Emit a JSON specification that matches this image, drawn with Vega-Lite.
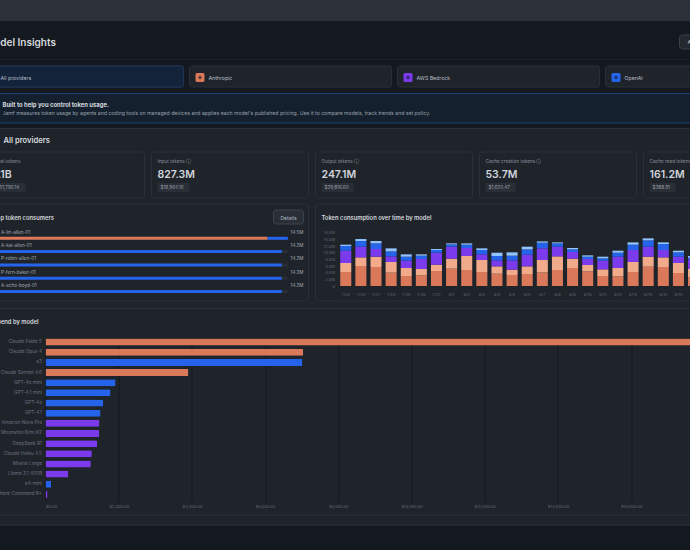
{
"$schema":"https://vega.github.io/schema/vega-lite/v6.json",
"description":"Model Insights dashboard: provider tabs, token KPIs, top consumers, consumption over time and spend by model.",
"background":"#1f242b",
"padding":{"left":-19.5,"top":0,"right":-160,"bottom":0},
"config":{"view":{"stroke":null},"text":{"font":"Inter"},"axis":{"labelFont":"Inter"}},
"data":{"values":[{}]},
"datasets":{
"providers":[{"provider":"All providers"},{"provider":"Anthropic"},{"provider":"AWS Bedrock"},{"provider":"OpenAI"}],
"kpis":[
{"label":"Total tokens","amount":"1.1B","cost":"$51,790.14"},
{"label":"Input tokens ⓘ","amount":"827.3M","cost":"$19,964.16"},
{"label":"Output tokens ⓘ","amount":"247.1M","cost":"$29,816.60"},
{"label":"Cache creation tokens ⓘ","amount":"53.7M","cost":"$1,620.47"},
{"label":"Cache read tokens ⓘ","amount":"161.2M","cost":"$388.91"}],
"consumers":[
{"user":"A-lin-allen-01","provider":"Anthropic","tokens":13.5},
{"user":"A-lin-allen-01","provider":"OpenAI","tokens":1.0},
{"user":"A-kai-allen-01","provider":"OpenAI","tokens":14.2},
{"user":"P-robin-allen-01","provider":"OpenAI","tokens":14.2},
{"user":"P-fern-baker-01","provider":"OpenAI","tokens":14.2},
{"user":"A-echo-boyd-01","provider":"OpenAI","tokens":14.2}],
"consumer_totals":[
{"user":"A-lin-allen-01","total":"14.5M","capacity":14.5,"right":15.27},
{"user":"A-kai-allen-01","total":"14.2M","capacity":14.5,"right":15.27},
{"user":"P-robin-allen-01","total":"14.2M","capacity":14.5,"right":15.27},
{"user":"P-fern-baker-01","total":"14.2M","capacity":14.5,"right":15.27},
{"user":"A-echo-boyd-01","total":"14.2M","capacity":14.5,"right":15.27}],
"spend":[
{"model":"Claude Fable 5","provider":"Anthropic","usd":19360},
{"model":"Claude Opus 4","provider":"Anthropic","usd":7040},
{"model":"o3","provider":"OpenAI","usd":7020},
{"model":"Claude Sonnet 4.6","provider":"Anthropic","usd":3907},
{"model":"GPT-4o mini","provider":"OpenAI","usd":1913},
{"model":"GPT-4.1 mini","provider":"OpenAI","usd":1776},
{"model":"GPT-4o","provider":"OpenAI","usd":1576},
{"model":"GPT-4.1","provider":"OpenAI","usd":1503},
{"model":"Amazon Nova Pro","provider":"AWS Bedrock","usd":1475},
{"model":"Moonshot Kimi K2","provider":"AWS Bedrock","usd":1467},
{"model":"DeepSeek R1","provider":"AWS Bedrock","usd":1412},
{"model":"Claude Haiku 4.5","provider":"AWS Bedrock","usd":1265},
{"model":"Mistral Large","provider":"AWS Bedrock","usd":1238},
{"model":"Llama 3.1 405B","provider":"AWS Bedrock","usd":628},
{"model":"o4-mini","provider":"OpenAI","usd":155},
{"model":"Cohere Command R+","provider":"AWS Bedrock","usd":55}],
"daily":[
{"day":"7/25","model":"Claude Fable 5","tokens":4.2},{"day":"7/25","model":"Claude Opus 4","tokens":2.7},{"day":"7/25","model":"DeepSeek R1","tokens":3.7},{"day":"7/25","model":"GPT-4o mini","tokens":1.4},{"day":"7/25","model":"o3","tokens":0.4},
{"day":"7/26","model":"Claude Fable 5","tokens":6.0},{"day":"7/26","model":"Claude Opus 4","tokens":2.6},{"day":"7/26","model":"DeepSeek R1","tokens":3.2},{"day":"7/26","model":"GPT-4o mini","tokens":1.7},{"day":"7/26","model":"o3","tokens":0.6},
{"day":"7/27","model":"Claude Fable 5","tokens":5.7},{"day":"7/27","model":"Claude Opus 4","tokens":3.1},{"day":"7/27","model":"DeepSeek R1","tokens":2.3},{"day":"7/27","model":"GPT-4o mini","tokens":1.7},{"day":"7/27","model":"o3","tokens":0.7},
{"day":"7/28","model":"Claude Fable 5","tokens":4.0},{"day":"7/28","model":"Claude Opus 4","tokens":3.2},{"day":"7/28","model":"DeepSeek R1","tokens":1.7},{"day":"7/28","model":"GPT-4o mini","tokens":1.5},{"day":"7/28","model":"o3","tokens":0.9},
{"day":"7/29","model":"Claude Fable 5","tokens":3.0},{"day":"7/29","model":"Claude Opus 4","tokens":2.4},{"day":"7/29","model":"DeepSeek R1","tokens":2.2},{"day":"7/29","model":"GPT-4o mini","tokens":1.2},{"day":"7/29","model":"o3","tokens":0.7},
{"day":"7/30","model":"Claude Fable 5","tokens":3.2},{"day":"7/30","model":"Claude Opus 4","tokens":1.9},{"day":"7/30","model":"DeepSeek R1","tokens":3.0},{"day":"7/30","model":"GPT-4o mini","tokens":1.0},{"day":"7/30","model":"o3","tokens":0.4},
{"day":"7/31","model":"Claude Fable 5","tokens":4.5},{"day":"7/31","model":"Claude Opus 4","tokens":1.9},{"day":"7/31","model":"DeepSeek R1","tokens":3.6},{"day":"7/31","model":"GPT-4o mini","tokens":0.8},{"day":"7/31","model":"o3","tokens":0.3},
{"day":"8/1","model":"Claude Fable 5","tokens":5.2},{"day":"8/1","model":"Claude Opus 4","tokens":3.0},{"day":"8/1","model":"DeepSeek R1","tokens":3.6},{"day":"8/1","model":"GPT-4o mini","tokens":0.7},{"day":"8/1","model":"o3","tokens":0.3},
{"day":"8/2","model":"Claude Fable 5","tokens":4.8},{"day":"8/2","model":"Claude Opus 4","tokens":4.2},{"day":"8/2","model":"DeepSeek R1","tokens":2.4},{"day":"8/2","model":"GPT-4o mini","tokens":1.0},{"day":"8/2","model":"o3","tokens":0.4},
{"day":"8/3","model":"Claude Fable 5","tokens":4.2},{"day":"8/3","model":"Claude Opus 4","tokens":3.6},{"day":"8/3","model":"DeepSeek R1","tokens":1.7},{"day":"8/3","model":"GPT-4o mini","tokens":1.3},{"day":"8/3","model":"o3","tokens":0.5},
{"day":"8/4","model":"Claude Fable 5","tokens":3.7},{"day":"8/4","model":"Claude Opus 4","tokens":2.2},{"day":"8/4","model":"DeepSeek R1","tokens":1.8},{"day":"8/4","model":"GPT-4o mini","tokens":1.3},{"day":"8/4","model":"o3","tokens":1.0},
{"day":"8/5","model":"Claude Fable 5","tokens":3.3},{"day":"8/5","model":"Claude Opus 4","tokens":1.6},{"day":"8/5","model":"DeepSeek R1","tokens":2.8},{"day":"8/5","model":"GPT-4o mini","tokens":1.4},{"day":"8/5","model":"o3","tokens":1.0},
{"day":"8/6","model":"Claude Fable 5","tokens":3.6},{"day":"8/6","model":"Claude Opus 4","tokens":2.3},{"day":"8/6","model":"DeepSeek R1","tokens":3.5},{"day":"8/6","model":"GPT-4o mini","tokens":1.6},{"day":"8/6","model":"o3","tokens":0.8},
{"day":"8/7","model":"Claude Fable 5","tokens":4.1},{"day":"8/7","model":"Claude Opus 4","tokens":3.7},{"day":"8/7","model":"DeepSeek R1","tokens":3.5},{"day":"8/7","model":"GPT-4o mini","tokens":1.7},{"day":"8/7","model":"o3","tokens":0.4},
{"day":"8/8","model":"Claude Fable 5","tokens":4.8},{"day":"8/8","model":"Claude Opus 4","tokens":4.1},{"day":"8/8","model":"DeepSeek R1","tokens":2.9},{"day":"8/8","model":"GPT-4o mini","tokens":1.0},{"day":"8/8","model":"o3","tokens":0.3},
{"day":"8/9","model":"Claude Fable 5","tokens":5.4},{"day":"8/9","model":"Claude Opus 4","tokens":2.8},{"day":"8/9","model":"DeepSeek R1","tokens":2.0},{"day":"8/9","model":"GPT-4o mini","tokens":0.8},{"day":"8/9","model":"o3","tokens":0.4},
{"day":"8/10","model":"Claude Fable 5","tokens":4.4},{"day":"8/10","model":"Claude Opus 4","tokens":1.9},{"day":"8/10","model":"DeepSeek R1","tokens":1.8},{"day":"8/10","model":"GPT-4o mini","tokens":0.7},{"day":"8/10","model":"o3","tokens":0.4},
{"day":"8/11","model":"Claude Fable 5","tokens":3.0},{"day":"8/11","model":"Claude Opus 4","tokens":2.0},{"day":"8/11","model":"DeepSeek R1","tokens":2.6},{"day":"8/11","model":"GPT-4o mini","tokens":0.7},{"day":"8/11","model":"o3","tokens":0.5},
{"day":"8/12","model":"Claude Fable 5","tokens":2.9},{"day":"8/12","model":"Claude Opus 4","tokens":2.5},{"day":"8/12","model":"DeepSeek R1","tokens":3.4},{"day":"8/12","model":"GPT-4o mini","tokens":1.2},{"day":"8/12","model":"o3","tokens":0.6},
{"day":"8/13","model":"Claude Fable 5","tokens":4.2},{"day":"8/13","model":"Claude Opus 4","tokens":3.0},{"day":"8/13","model":"DeepSeek R1","tokens":3.6},{"day":"8/13","model":"GPT-4o mini","tokens":1.6},{"day":"8/13","model":"o3","tokens":0.7},
{"day":"8/14","model":"Claude Fable 5","tokens":5.8},{"day":"8/14","model":"Claude Opus 4","tokens":3.0},{"day":"8/14","model":"DeepSeek R1","tokens":3.0},{"day":"8/14","model":"GPT-4o mini","tokens":1.9},{"day":"8/14","model":"o3","tokens":0.6},
{"day":"8/15","model":"Claude Fable 5","tokens":5.7},{"day":"8/15","model":"Claude Opus 4","tokens":2.9},{"day":"8/15","model":"DeepSeek R1","tokens":2.2},{"day":"8/15","model":"GPT-4o mini","tokens":1.8},{"day":"8/15","model":"o3","tokens":0.5},
{"day":"8/16","model":"Claude Fable 5","tokens":3.9},{"day":"8/16","model":"Claude Opus 4","tokens":3.0},{"day":"8/16","model":"DeepSeek R1","tokens":1.9},{"day":"8/16","model":"GPT-4o mini","tokens":1.3},{"day":"8/16","model":"o3","tokens":0.5},
{"day":"8/17","model":"Claude Fable 5","tokens":2.7},{"day":"8/17","model":"Claude Opus 4","tokens":2.4},{"day":"8/17","model":"DeepSeek R1","tokens":2.9},{"day":"8/17","model":"GPT-4o mini","tokens":0.5},{"day":"8/17","model":"o3","tokens":0.5}]
},
"bounds":"flush",
"spacing":0,
"vconcat":[
{"width":869,"height":21,"view":{"fill":"#2c3038"},"mark":{"type":"text","text":""}},
{"width":869,"height":39,"view":{"fill":"#141920"},"layer":[
{"mark":{"type":"rule","color":"#262b33","strokeWidth":1},"encoding":{"y":{"datum":39,"scale":{"domain":[0,39],"reverse":true},"axis":null}}},
{"mark":{"type":"text","text":"Model Insights","align":"left","fontSize":10,"fontWeight":600,"color":"#d6d9de"},"encoding":{"x":{"datum":3.5,"scale":{"domain":[0,869]},"axis":null},"y":{"datum":22,"scale":{"domain":[0,39],"reverse":true},"axis":null}}},
{"mark":{"type":"rect","fill":"#242930","stroke":"#3a4049","cornerRadius":3},"encoding":{"x":{"datum":698,"scale":{"domain":[0,869]},"axis":null},"x2":{"datum":760},"y":{"datum":14,"scale":{"domain":[0,39],"reverse":true},"axis":null},"y2":{"datum":28}}},
{"mark":{"type":"text","text":"All time","align":"left","fontSize":5.2,"color":"#c4c8ce"},"encoding":{"x":{"datum":706,"scale":{"domain":[0,869]},"axis":null},"y":{"datum":21,"scale":{"domain":[0,39],"reverse":true},"axis":null}}}
]},
{"width":869,"height":33,"view":{"fill":"#141920"},"data":{"name":"providers"},
"encoding":{"x":{"field":"provider","type":"nominal","sort":null,"bandPosition":0,"scale":{"range":[0,826],"paddingInner":0.02885,"paddingOuter":0},"axis":null}},
"layer":[
{"mark":{"type":"rect","fill":"#1f242b","stroke":"#2a3038","cornerRadius":2},"encoding":{"x":{"field":"provider","type":"nominal","sort":null,"axis":null},"y":{"datum":6,"scale":{"domain":[0,33],"reverse":true},"axis":null},"y2":{"datum":27}}},
{"transform":[{"filter":"datum.provider == 'All providers'"}],"mark":{"type":"rect","fill":"#13243a","stroke":"#1c3656","cornerRadius":2},"encoding":{"x":{"field":"provider","type":"nominal","sort":null,"axis":null},"y":{"datum":6,"scale":{"domain":[0,33],"reverse":true},"axis":null},"y2":{"datum":27}}},
{"transform":[{"filter":"datum.provider != 'All providers'"}],"mark":{"type":"rect","width":9,"xOffset":-90.5,"cornerRadius":1.5},"encoding":{"x":{"field":"provider","type":"nominal","sort":null,"axis":null},"y":{"datum":13,"scale":{"domain":[0,33],"reverse":true},"axis":null},"y2":{"datum":22},"color":{"field":"provider","scale":{"domain":["Anthropic","AWS Bedrock","OpenAI"],"range":["#d9795a","#7c3aed","#2563eb"]},"legend":null}}},
{"transform":[{"filter":"datum.provider != 'All providers'"}],"mark":{"type":"point","filled":true,"size":12,"color":"#111827","opacity":0.6,"xOffset":10.5},"encoding":{"y":{"datum":17.5,"scale":{"domain":[0,33],"reverse":true},"axis":null}}},
{"mark":{"type":"text","align":"left","dx":19,"fontSize":5.2,"color":"#b8bdc5"},"encoding":{"y":{"datum":17.5,"scale":{"domain":[0,33],"reverse":true},"axis":null},"text":{"field":"provider"}}}
]},
{"width":869,"height":35,"view":{"fill":"#141920"},"layer":[
{"mark":{"type":"rect","fill":"#14202e","stroke":"#1b4278","strokeWidth":1.2},"encoding":{"x":{"datum":1,"scale":{"domain":[0,869]},"axis":null},"x2":{"datum":869},"y":{"datum":0.5,"scale":{"domain":[0,35],"reverse":true},"axis":null},"y2":{"datum":30}}},
{"mark":{"type":"text","text":"Built to help you control token usage.","align":"left","fontSize":5.9,"fontWeight":700,"color":"#d6d9de"},"encoding":{"x":{"datum":21,"scale":{"domain":[0,869]},"axis":null},"y":{"datum":12,"scale":{"domain":[0,35],"reverse":true},"axis":null}}},
{"mark":{"type":"text","text":"Jamf measures token usage by agents and coding tools on managed devices and applies each model's published pricing. Use it to compare models, track trends and set policy.","align":"left","fontSize":5.15,"color":"#98a0aa"},"encoding":{"x":{"datum":21,"scale":{"domain":[0,869]},"axis":null},"y":{"datum":20,"scale":{"domain":[0,35],"reverse":true},"axis":null}}}
]},
{"width":869,"height":24,"layer":[
{"mark":{"type":"rule","color":"#2a3038"},"encoding":{"y":{"datum":0.5,"scale":{"domain":[0,24],"reverse":true},"axis":null}}},
{"mark":{"type":"text","text":"All providers","align":"left","fontSize":7.6,"fontWeight":600,"color":"#d6d9de"},"encoding":{"x":{"datum":22,"scale":{"domain":[0,869]},"axis":null},"y":{"datum":13,"scale":{"domain":[0,24],"reverse":true},"axis":null}}}
]},
{"width":869,"height":52,"data":{"name":"kpis"},
"encoding":{"x":{"field":"label","type":"nominal","sort":null,"bandPosition":0,"scale":{"range":[6,819],"paddingInner":0.0427,"paddingOuter":0},"axis":null}},
"layer":[
{"mark":{"type":"rect","fill":"#1f242b","stroke":"#2b313a","cornerRadius":2},"encoding":{"x":{"field":"label","type":"nominal","sort":null,"axis":null},"y":{"datum":0,"scale":{"domain":[0,52],"reverse":true},"axis":null},"y2":{"datum":46}}},
{"mark":{"type":"text","align":"left","dx":6,"fontSize":4.7,"color":"#8b919a"},"encoding":{"y":{"datum":9.5,"scale":{"domain":[0,52],"reverse":true},"axis":null},"text":{"field":"label"}}},
{"mark":{"type":"text","align":"left","dx":6,"fontSize":10.5,"fontWeight":600,"color":"#d1d5db"},"encoding":{"y":{"datum":22.5,"scale":{"domain":[0,52],"reverse":true},"axis":null},"text":{"field":"amount"}}},
{"transform":[{"filter":"length(datum.cost) == 10"}],"mark":{"type":"rect","width":32,"xOffset":-56.5,"fill":"#2a2f37","cornerRadius":1},"encoding":{"x":{"field":"label","type":"nominal","sort":null,"axis":null},"y":{"datum":31,"scale":{"domain":[0,52],"reverse":true},"axis":null},"y2":{"datum":40}}},
{"transform":[{"filter":"length(datum.cost) == 9"}],"mark":{"type":"rect","width":30,"xOffset":-57.5,"fill":"#2a2f37","cornerRadius":1},"encoding":{"x":{"field":"label","type":"nominal","sort":null,"axis":null},"y":{"datum":31,"scale":{"domain":[0,52],"reverse":true},"axis":null},"y2":{"datum":40}}},
{"transform":[{"filter":"length(datum.cost) == 7"}],"mark":{"type":"rect","width":26,"xOffset":-59.5,"fill":"#2a2f37","cornerRadius":1},"encoding":{"x":{"field":"label","type":"nominal","sort":null,"axis":null},"y":{"datum":31,"scale":{"domain":[0,52],"reverse":true},"axis":null},"y2":{"datum":40}}},
{"mark":{"type":"text","align":"left","dx":9,"fontSize":4.6,"color":"#9aa0a8"},"encoding":{"y":{"datum":35.5,"scale":{"domain":[0,52],"reverse":true},"axis":null},"text":{"field":"cost"}}}
]},
{"width":869,"height":103,
"resolve":{"scale":{"x":"independent","y":"independent","color":"independent"},"axis":{"x":"independent","y":"independent"}},
"layer":[
{"mark":{"type":"rect","fill":"#1f242b","stroke":"#2b313a","cornerRadius":2},"encoding":{"x":{"datum":0,"scale":{"domain":[0,869]},"axis":null},"x2":{"datum":327},"y":{"datum":0,"scale":{"domain":[0,103],"reverse":true},"axis":null},"y2":{"datum":97}}},
{"mark":{"type":"rect","fill":"#1f242b","stroke":"#2b313a","cornerRadius":2},"encoding":{"x":{"datum":334,"scale":{"domain":[0,869]},"axis":null},"x2":{"datum":869},"y":{"datum":0,"scale":{"domain":[0,103],"reverse":true},"axis":null},"y2":{"datum":97}}},
{"mark":{"type":"text","text":"Top token consumers","align":"left","fontSize":5.8,"fontWeight":600,"color":"#d6d9de"},"encoding":{"x":{"datum":12,"scale":{"domain":[0,869]},"axis":null},"y":{"datum":13.7,"scale":{"domain":[0,103],"reverse":true},"axis":null}}},
{"mark":{"type":"rect","fill":"#2a2f37","stroke":"#3e444d","cornerRadius":2.5},"encoding":{"x":{"datum":292,"scale":{"domain":[0,869]},"axis":null},"x2":{"datum":322},"y":{"datum":6,"scale":{"domain":[0,103],"reverse":true},"axis":null},"y2":{"datum":20}}},
{"mark":{"type":"text","text":"Details","align":"center","fontSize":5,"color":"#b8bdc5"},"encoding":{"x":{"datum":307,"scale":{"domain":[0,869]},"axis":null},"y":{"datum":13.5,"scale":{"domain":[0,103],"reverse":true},"axis":null}}},
{"mark":{"type":"text","text":"Token consumption over time by model","align":"left","fontSize":5.8,"fontWeight":600,"color":"#d6d9de"},"encoding":{"x":{"datum":340,"scale":{"domain":[0,869]},"axis":null},"y":{"datum":13.7,"scale":{"domain":[0,103],"reverse":true},"axis":null}}},
{"data":{"name":"consumer_totals"},"mark":{"type":"bar","size":3,"cornerRadius":1,"color":"#2a2f37"},"encoding":{"x":{"field":"capacity","type":"quantitative","stack":null,"scale":{"domain":[0,16],"range":[12,336.8]},"axis":null},"y":{"field":"user","type":"nominal","sort":null,"scale":{"range":[27.65,94.15],"paddingInner":0,"paddingOuter":0},"axis":null}}},
{"data":{"name":"consumers"},"mark":{"type":"bar","size":3},"encoding":{"x":{"field":"tokens","type":"quantitative","stack":"zero","scale":{"domain":[0,16],"range":[12,336.8]},"axis":null},"y":{"field":"user","type":"nominal","sort":null,"scale":{"range":[27.65,94.15],"paddingInner":0,"paddingOuter":0},"axis":null},"color":{"field":"provider","scale":{"domain":["Anthropic","OpenAI"],"range":["#d9795a","#2563eb"]},"legend":null}}},
{"data":{"name":"consumer_totals"},"mark":{"type":"text","align":"left","dx":7.5,"dy":-5.7,"fontSize":4.6,"color":"#a4aab2"},"encoding":{"x":{"datum":0,"scale":{"domain":[0,16],"range":[12,336.8]},"axis":null},"y":{"field":"user","type":"nominal","sort":null,"scale":{"range":[27.65,94.15],"paddingInner":0,"paddingOuter":0},"axis":null},"text":{"field":"user"}}},
{"data":{"name":"consumer_totals"},"mark":{"type":"text","align":"right","dy":-5.7,"fontSize":4.6,"color":"#a4aab2"},"encoding":{"x":{"field":"right","type":"quantitative","stack":null,"scale":{"domain":[0,16],"range":[12,336.8]},"axis":null},"y":{"field":"user","type":"nominal","sort":null,"scale":{"range":[27.65,94.15],"paddingInner":0,"paddingOuter":0},"axis":null},"text":{"field":"total"}}},
{"data":{"name":"daily"},"mark":{"type":"bar"},"encoding":{
"x":{"field":"day","type":"ordinal","sort":null,"scale":{"range":[356.7,719.6],"paddingInner":0.27,"paddingOuter":0.135},"axis":{"title":null,"labelAngle":0,"offset":-18,"zindex":1,"domain":false,"ticks":false,"labelFontSize":4,"labelColor":"#5f6670","labelPadding":3}},
"y":{"field":"tokens","type":"quantitative","stack":"zero","scale":{"domain":[0,16],"range":[82,28.7]},"axis":{"title":null,"values":[0,2,4,6,8,10,12,14,16],"labelExpr":"datum.value == 0 ? '0' : format(datum.value, '.1f') + 'M'","offset":-353,"zindex":1,"domain":false,"ticks":false,"grid":false,"labelFontSize":4,"labelColor":"#5f6670","labelPadding":0}},
"color":{"field":"model","scale":{"domain":["Claude Fable 5","Claude Opus 4","DeepSeek R1","GPT-4o mini","o3"],"range":["#d9795a","#f2ab8a","#7c3aed","#2563eb","#93c5fd"]},"legend":null},
"order":{"field":"model","sort":"ascending"}}}
]},
{"width":869,"height":30,"layer":[
{"mark":{"type":"rule","color":"#2a3038"},"encoding":{"y":{"datum":1.5,"scale":{"domain":[0,30],"reverse":true},"axis":null}}},
{"mark":{"type":"text","text":"Spend by model","align":"left","fontSize":5.8,"fontWeight":600,"color":"#d6d9de"},"encoding":{"x":{"datum":12,"scale":{"domain":[0,869]},"axis":null},"y":{"datum":14.7,"scale":{"domain":[0,30],"reverse":true},"axis":null}}}
]},
{"width":869,"height":165,"data":{"name":"spend"},"mark":{"type":"bar","cornerRadius":1},"encoding":{
"x":{"field":"usd","type":"quantitative","scale":{"domain":[0,20000],"range":[64,796]},"axis":{"title":null,"values":[0,2000,4000,6000,8000,10000,12000,14000,16000,18000],"format":"$,.2f","grid":true,"gridColor":"#12161b","gridWidth":0.8,"domain":false,"ticks":false,"labelFontSize":4,"labelColor":"#5f6670","labelPadding":2}},
"y":{"field":"model","type":"nominal","sort":null,"scale":{"range":[0,162.5],"paddingInner":0.31,"paddingOuter":0.155},"axis":{"title":null,"offset":-64,"domain":false,"ticks":false,"labelFontSize":4.75,"labelColor":"#6b7280","labelPadding":4,"labelLimit":0}},
"color":{"field":"provider","scale":{"domain":["Anthropic","OpenAI","AWS Bedrock"],"range":["#d9795a","#2563eb","#7c3aed"]},"legend":null}}},
{"width":869,"height":23,"mark":{"type":"rule","color":"#2a3038"},"encoding":{"y":{"datum":13,"scale":{"domain":[0,23],"reverse":true},"axis":null}}},
{"width":869,"height":25,"view":{"fill":"#141920"},"layer":[
{"mark":{"type":"rule","color":"#2f353e"},"encoding":{"y":{"datum":0,"scale":{"domain":[0,25],"reverse":true},"axis":null}}}
]}
]}
